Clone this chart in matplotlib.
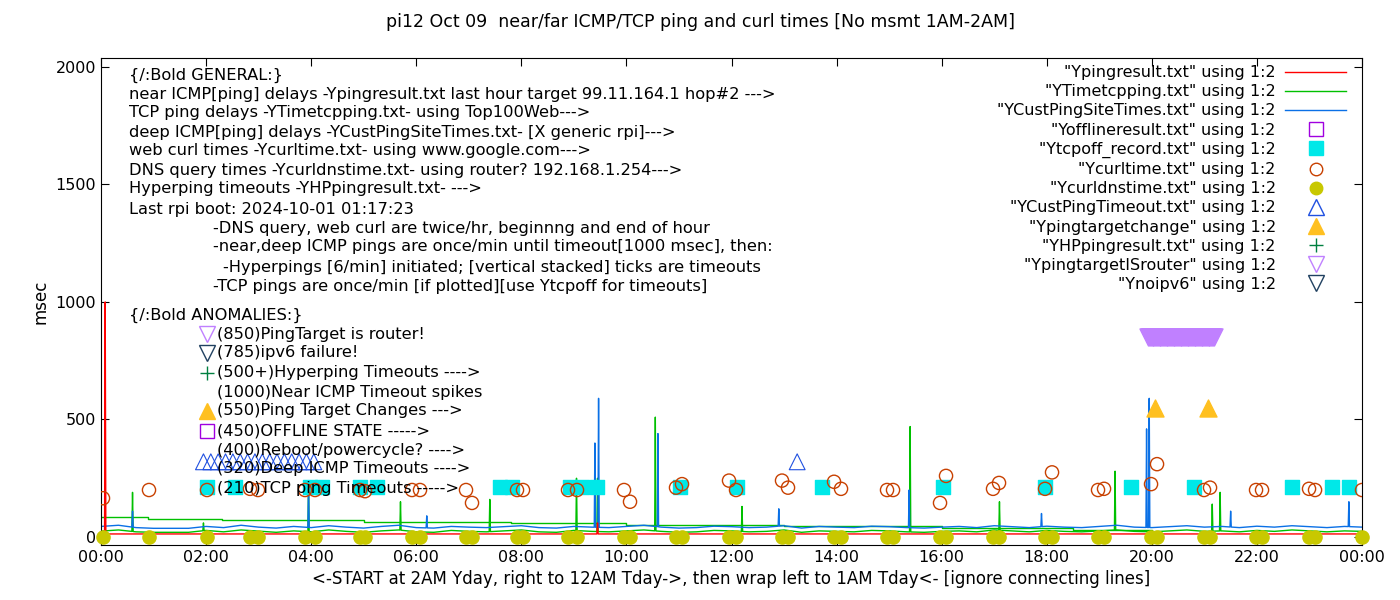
import numpy as np
import matplotlib
matplotlib.use("Agg")
import matplotlib.pyplot as plt
from matplotlib.lines import Line2D

# ---- data (hours of day, msec) ----
base_t = np.arange(0, 24.01, 1 / 3)   # 20-minute samples

blue_base = [45, 50, 40, 37, 37, 37, 45, 40, 50, 42, 38, 45,
             40, 48, 42, 38, 45, 50, 40, 38, 45, 42, 40, 44,
             48, 40, 38, 45, 42, 40, 45, 50, 42, 38, 40, 46,
             44, 40, 42, 48, 38, 45, 42, 40, 46, 44, 40, 38,
             42, 45, 40, 48, 44, 40, 46, 42, 40, 45, 50, 42,
             40, 44, 48, 42, 45, 40, 46, 42, 48, 44, 40, 45, 42]
green_base = [25, 30, 22, 20, 20, 20, 28, 22, 30, 25, 20, 26,
              22, 30, 24, 20, 26, 30, 22, 20, 28, 24, 22, 26,
              30, 22, 20, 28, 24, 22, 26, 30, 24, 20, 22, 28,
              26, 22, 24, 30, 20, 26, 24, 22, 28, 26, 22, 20,
              24, 26, 22, 30, 26, 22, 28, 24, 22, 26, 30, 24,
              22, 26, 30, 24, 26, 22, 28, 24, 30, 26, 22, 26, 24]
red_base = [13] * len(base_t)

blue_spk_t = [0.6, 3.95, 6.2, 9.4, 9.47, 10.6, 12.9, 15.38, 17.9, 19.9, 19.95, 21.5, 23.75]
blue_spk_v = [110, 220, 90, 400, 590, 440, 120, 200, 100, 460, 590, 110, 150]
green_spk_t = [0.6, 1.95, 3.95, 5.7, 7.4, 9.05, 9.45, 10.55, 12.2, 15.4, 17.1, 19.3, 21.15, 21.3]
green_spk_v = [190, 60, 240, 150, 160, 250, 250, 510, 130, 470, 150, 280, 140, 190]
red_spk_t = [0.08, 9.45]
red_spk_v = [1000, 60]

wrap_t = [0, 0.9, 2.3, 5.0, 7.8, 10, 13, 16, 18.5, 20]
wrap_v = [85, 77, 72, 64, 60, 52, 45, 38, 30, 22]

curl_px = [103, 149, 207, 250, 258, 305, 315, 360, 365, 412, 420, 466, 472, 517, 523,
           568, 577, 624, 630, 676, 682, 729, 736, 782, 788, 834, 841, 887, 893, 940,
           946, 993, 999, 1045, 1052, 1098, 1104, 1151, 1157, 1204, 1210, 1256, 1262,
           1309, 1315, 1362]
curl_t = [(p - 101) / 52.54 for p in curl_px]
curl_v = [165, 200, 200, 205, 200, 200, 200, 200, 195, 200, 200, 200, 145, 200, 200,
          200, 200, 200, 150, 210, 225, 240, 200, 240, 210, 235, 205, 200, 200, 145,
          260, 205, 230, 205, 275, 200, 205, 225, 310, 200, 210, 200, 200,
          205, 200, 200]
dns_t = curl_t
dns_v = [0] * len(dns_t)

tcpoff_px = [207, 235, 310, 322, 360, 377, 500, 512, 570, 582, 597, 680, 737, 822,
             943, 1045, 1131, 1194, 1292, 1332, 1349]
tcpoff_t = [(p - 101) / 52.54 for p in tcpoff_px]
tcpoff_v = [213] * len(tcpoff_t)

deep_to_t = [1.95 + 0.14 * i for i in range(16)] + [13.25]
deep_to_v = [320] * len(deep_to_t)

target_chg_t = [20.06, 21.06]
target_chg_v = [550, 550]

router_t = [19.93 + i / 60 for i in range(76)]
router_v = [850] * len(router_t)


def merged(bt, bv, st, sv, w=0.012):
    bt = np.asarray(bt, float)
    bv = np.asarray(bv, float)
    st = np.asarray(st, float)
    edges = np.concatenate([st - w, st + w])
    t = np.concatenate([bt, st, edges])
    v = np.concatenate([bv, sv, np.interp(edges, bt, bv)])
    o = np.argsort(t, kind="stable")
    return t[o], v[o]


fig = plt.figure(figsize=(14, 6), dpi=100)
ax = fig.add_axes([101 / 1400, 55 / 600, 1261 / 1400, 487 / 600])

t, v = merged(base_t, green_base, green_spk_t, green_spk_v)
ax.plot(t, v, color="#00c000", lw=1)
ax.step(wrap_t, wrap_v, where="post", color="#00c000", lw=1)
t, v = merged(base_t, blue_base, blue_spk_t, blue_spk_v)
ax.plot(t, v, color="#0a70e6", lw=1)
t, v = merged(base_t, red_base, red_spk_t, red_spk_v)
ax.plot(t, v, color="red", lw=1)

ax.scatter(tcpoff_t, tcpoff_v, marker="s", s=110, color="#00e8e8", zorder=3)
ax.scatter(curl_t, curl_v, marker="o", s=90, facecolor="none", edgecolor="#c84000", lw=1, zorder=4)
ax.scatter(dns_t, dns_v, marker="o", s=90, color="#c8c800", zorder=4, clip_on=False)
ax.scatter(deep_to_t, deep_to_v, marker="^", s=130, facecolor="none", edgecolor="#2050e0", lw=0.8, zorder=4)
ax.scatter(target_chg_t, target_chg_v, marker="^", s=150, color="#ffc020", zorder=4)
ax.scatter(router_t, router_v, marker="v", s=150, color="#c080ff", zorder=4)

ax.set_xlim(0, 24)
ax.set_ylim(-34, 2038)
ax.set_xticks(range(0, 25, 2))
ax.set_xticklabels([f"{h % 24:02d}:00" for h in range(0, 25, 2)])
ax.set_yticks([0, 500, 1000, 1500, 2000])
ax.tick_params(direction="in", labelsize=11.5, top=True, right=True, length=6)
ax.set_ylabel("msec", fontsize=12)
ax.set_xlabel("<-START at 2AM Yday, right to 12AM Tday->, then wrap left to 1AM Tday<- [ignore connecting lines]",
              fontsize=12)
fig.text(0.5, 0.955, "pi12 Oct 09  near/far ICMP/TCP ping and curl times [No msmt 1AM-2AM]",
         ha="center", fontsize=12.5)

# legend
leg_items = [
    ('"Ypingresult.txt" using 1:2', dict(color="red", lw=1)),
    ('"YTimetcpping.txt" using 1:2', dict(color="#00c000", lw=1)),
    ('"YCustPingSiteTimes.txt" using 1:2', dict(color="#0a70e6", lw=1)),
    ('"Yofflineresult.txt" using 1:2', dict(marker="s", mfc="none", mec="#a000e0", ms=10, lw=0)),
    ('"Ytcpoff_record.txt" using 1:2', dict(marker="s", color="#00e8e8", ms=10, lw=0)),
    ('"Ycurltime.txt" using 1:2', dict(marker="o", mfc="none", mec="#c84000", ms=9, lw=0)),
    ('"Ycurldnstime.txt" using 1:2', dict(marker="o", color="#c8c800", ms=9, lw=0)),
    ('"YCustPingTimeout.txt" using 1:2', dict(marker="^", mfc="none", mec="#2050e0", ms=11, lw=0)),
    ('"Ypingtargetchange" using 1:2', dict(marker="^", color="#ffc020", ms=11, lw=0)),
    ('"YHPpingresult.txt" using 1:2', dict(marker="+", color="#008040", ms=10, lw=0)),
    ('"YpingtargetISrouter" using 1:2', dict(marker="v", mfc="none", mec="#c080ff", ms=11, lw=0)),
    ('"Ynoipv6" using 1:2', dict(marker="v", mfc="none", mec="#204060", ms=11, lw=0)),
]
handles = [Line2D([], [], **kw) for _, kw in leg_items]
ax.legend(handles, [l for l, _ in leg_items], loc="upper right", frameon=False,
          markerfirst=False, handlelength=3.8, labelspacing=0.26, fontsize=11.5,
          bbox_to_anchor=(0.995, 1.005), borderaxespad=0.2, handletextpad=0.6)

# annotation text block (pixel positions in figure)
def ftxt(x, y, s):
    fig.text(x / 1400, 1 - y / 600, s, fontsize=11.7, va="center")

lines = [
    (129, 75, "{/:Bold GENERAL:}"),
    (129, 94, "near ICMP[ping] delays -Ypingresult.txt last hour target 99.11.164.1 hop#2 --->"),
    (129, 113, "TCP ping delays -YTimetcpping.txt- using Top100Web--->"),
    (129, 132, "deep ICMP[ping] delays -YCustPingSiteTimes.txt- [X generic rpi]--->"),
    (129, 151, "web curl times -Ycurltime.txt- using www.google.com--->"),
    (129, 170, "DNS query times -Ycurldnstime.txt- using router? 192.168.1.254--->"),
    (129, 189, "Hyperping timeouts -YHPpingresult.txt- --->"),
    (129, 209, "Last rpi boot: 2024-10-01 01:17:23"),
    (213, 228, "-DNS query, web curl are twice/hr, beginnng and end of hour"),
    (213, 247, "-near,deep ICMP pings are once/min until timeout[1000 msec], then:"),
    (223, 267, "-Hyperpings [6/min] initiated; [vertical stacked] ticks are timeouts"),
    (213, 286, "-TCP pings are once/min [if plotted][use Ytcpoff for timeouts]"),
    (129, 315, "{/:Bold ANOMALIES:}"),
    (217, 334, "(850)PingTarget is router!"),
    (217, 353, "(785)ipv6 failure!"),
    (217, 373, "(500+)Hyperping Timeouts ---->"),
    (217, 392, "(1000)Near ICMP Timeout spikes"),
    (217, 411, "(550)Ping Target Changes --->"),
    (217, 431, "(450)OFFLINE STATE ----->"),
    (217, 450, "(400)Reboot/powercycle? ---->"),
    (217, 469, "(320)Deep ICMP Timeouts ---->"),
    (217, 489, "(210)TCP ping Timeouts ----->"),
]
for x, y, s in lines:
    ftxt(x, y, s)

keys = [
    (334, dict(marker="v", mfc="none", mec="#c080ff", ms=11)),
    (353, dict(marker="v", mfc="none", mec="#204060", ms=11)),
    (373, dict(marker="+", color="#008040", ms=10)),
    (411, dict(marker="^", color="#ffc020", ms=11)),
    (431, dict(marker="s", mfc="none", mec="#a000e0", ms=10)),
]
for y, kw in keys:
    fig.add_artist(Line2D([207 / 1400], [1 - y / 600], lw=0, **kw))

fig.savefig("out.png", dpi=100)
